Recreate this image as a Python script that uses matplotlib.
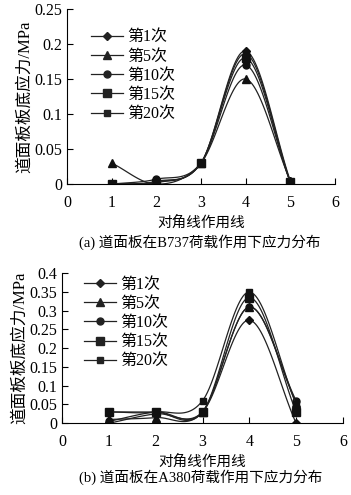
import numpy as np
import matplotlib
matplotlib.use("Agg")
import matplotlib.pyplot as plt

plt.rcParams['font.family'] = ['Liberation Serif', 'Noto Sans CJK SC']
plt.rcParams['font.size'] = 11.5

x = [1, 2, 3, 4, 5]
labels = ["第1次", "第5次", "第10次", "第15次", "第20次"]
markers = ["D", "^", "o", "s", "s"]
msizes = [4.5, 6, 5, 6, 4]

# (a) B737
b737_1 = [0.0, 0.004, 0.03, 0.19, 0.005]
b737_5 = [0.03, 0.0, 0.03, 0.15, 0.005]
b737_10 = [0.0, 0.007, 0.03, 0.17, 0.003]
b737_15 = [0.0, 0.002, 0.03, 0.18, 0.003]
b737_20 = [0.0, 0.003, 0.03, 0.186, 0.003]

# (b) A380
a380_1 = [0.0, 0.025, 0.03, 0.275, 0.0]
a380_5 = [0.01, 0.015, 0.03, 0.31, 0.055]
a380_10 = [0.005, 0.03, 0.03, 0.31, 0.06]
a380_15 = [0.03, 0.03, 0.03, 0.335, 0.03]
a380_20 = [0.03, 0.03, 0.06, 0.35, 0.05]


def smooth(xs, ys, n=30):
    # catmull-rom style curve like excel "smoothed line"
    xs = np.asarray(xs, float)
    ys = np.asarray(ys, float)
    px = np.concatenate([[2 * xs[0] - xs[1]], xs, [2 * xs[-1] - xs[-2]]])
    py = np.concatenate([[2 * ys[0] - ys[1]], ys, [2 * ys[-1] - ys[-2]]])
    ox, oy = [], []
    t = np.linspace(0, 1, n)
    for i in range(1, len(px) - 2):
        for arr, out in ((px, ox), (py, oy)):
            p0, p1, p2, p3 = arr[i - 1], arr[i], arr[i + 1], arr[i + 2]
            out.extend(0.5 * ((2 * p1) + (-p0 + p2) * t
                              + (2 * p0 - 5 * p1 + 4 * p2 - p3) * t ** 2
                              + (-p0 + 3 * p1 - 3 * p2 + p3) * t ** 3))
    return np.array(ox), np.array(oy)


def panel(ax, series, ymax, ystep, yticklabels, legpos):
    for ys, lab, m, ms in zip(series, labels, markers, msizes):
        sx, sy = smooth(x, ys)
        ax.plot(sx, sy, color='#222222', lw=0.9)
        ax.plot(x, ys, linestyle='none', marker=m, ms=ms, color='#111111')
        ax.plot([], [], color='#222222', lw=0.9, marker=m, ms=ms, label=lab)
    ax.set_xlim(0, 6)
    ax.set_ylim(0, ymax)
    ax.set_xticks(range(0, 7))
    ax.set_yticks(np.arange(0, ymax + 1e-9, ystep))
    ax.set_yticklabels(yticklabels)
    for s in ['top', 'right']:
        ax.spines[s].set_visible(False)
    ax.tick_params(direction='in', length=4, width=0.8)
    ax.tick_params(axis='x', pad=8)
    ax.set_xlabel("对角线作用线", labelpad=3, fontsize=10.5)
    ax.set_ylabel("道面板板底应力/MPa", labelpad=1, fontsize=12)
    ax.legend(loc='upper left', bbox_to_anchor=legpos, frameon=False,
              handlelength=2.0, handletextpad=0.3, labelspacing=0.2,
              borderaxespad=0, fontsize=11.5)


fig = plt.figure(figsize=(3.51, 4.95), dpi=100)
ax1 = fig.add_axes([0.191, 0.628, 0.763, 0.354])
ax2 = fig.add_axes([0.177, 0.145, 0.800, 0.303])

panel(ax1, [b737_1, b737_5, b737_10, b737_15, b737_20], 0.25, 0.05,
      ["0", "0.05", "0.1", "0.15", "0.2", "0.25"], (0.065, 0.92))
panel(ax2, [a380_1, a380_5, a380_10, a380_15, a380_20], 0.4, 0.05,
      ["0", "0.05", "0.1", "0.15", "0.2", "0.25", "0.3", "0.35", "0.4"],
      (0.055, 1.02))

fig.text(0.57, 0.511, "(a) 道面板在B737荷载作用下应力分布", ha='center',
         va='center', fontsize=10.5)
fig.text(0.573, 0.036, "(b) 道面板在A380荷载作用下应力分布", ha='center',
         va='center', fontsize=10.5)

fig.savefig("out.png", dpi=100)
